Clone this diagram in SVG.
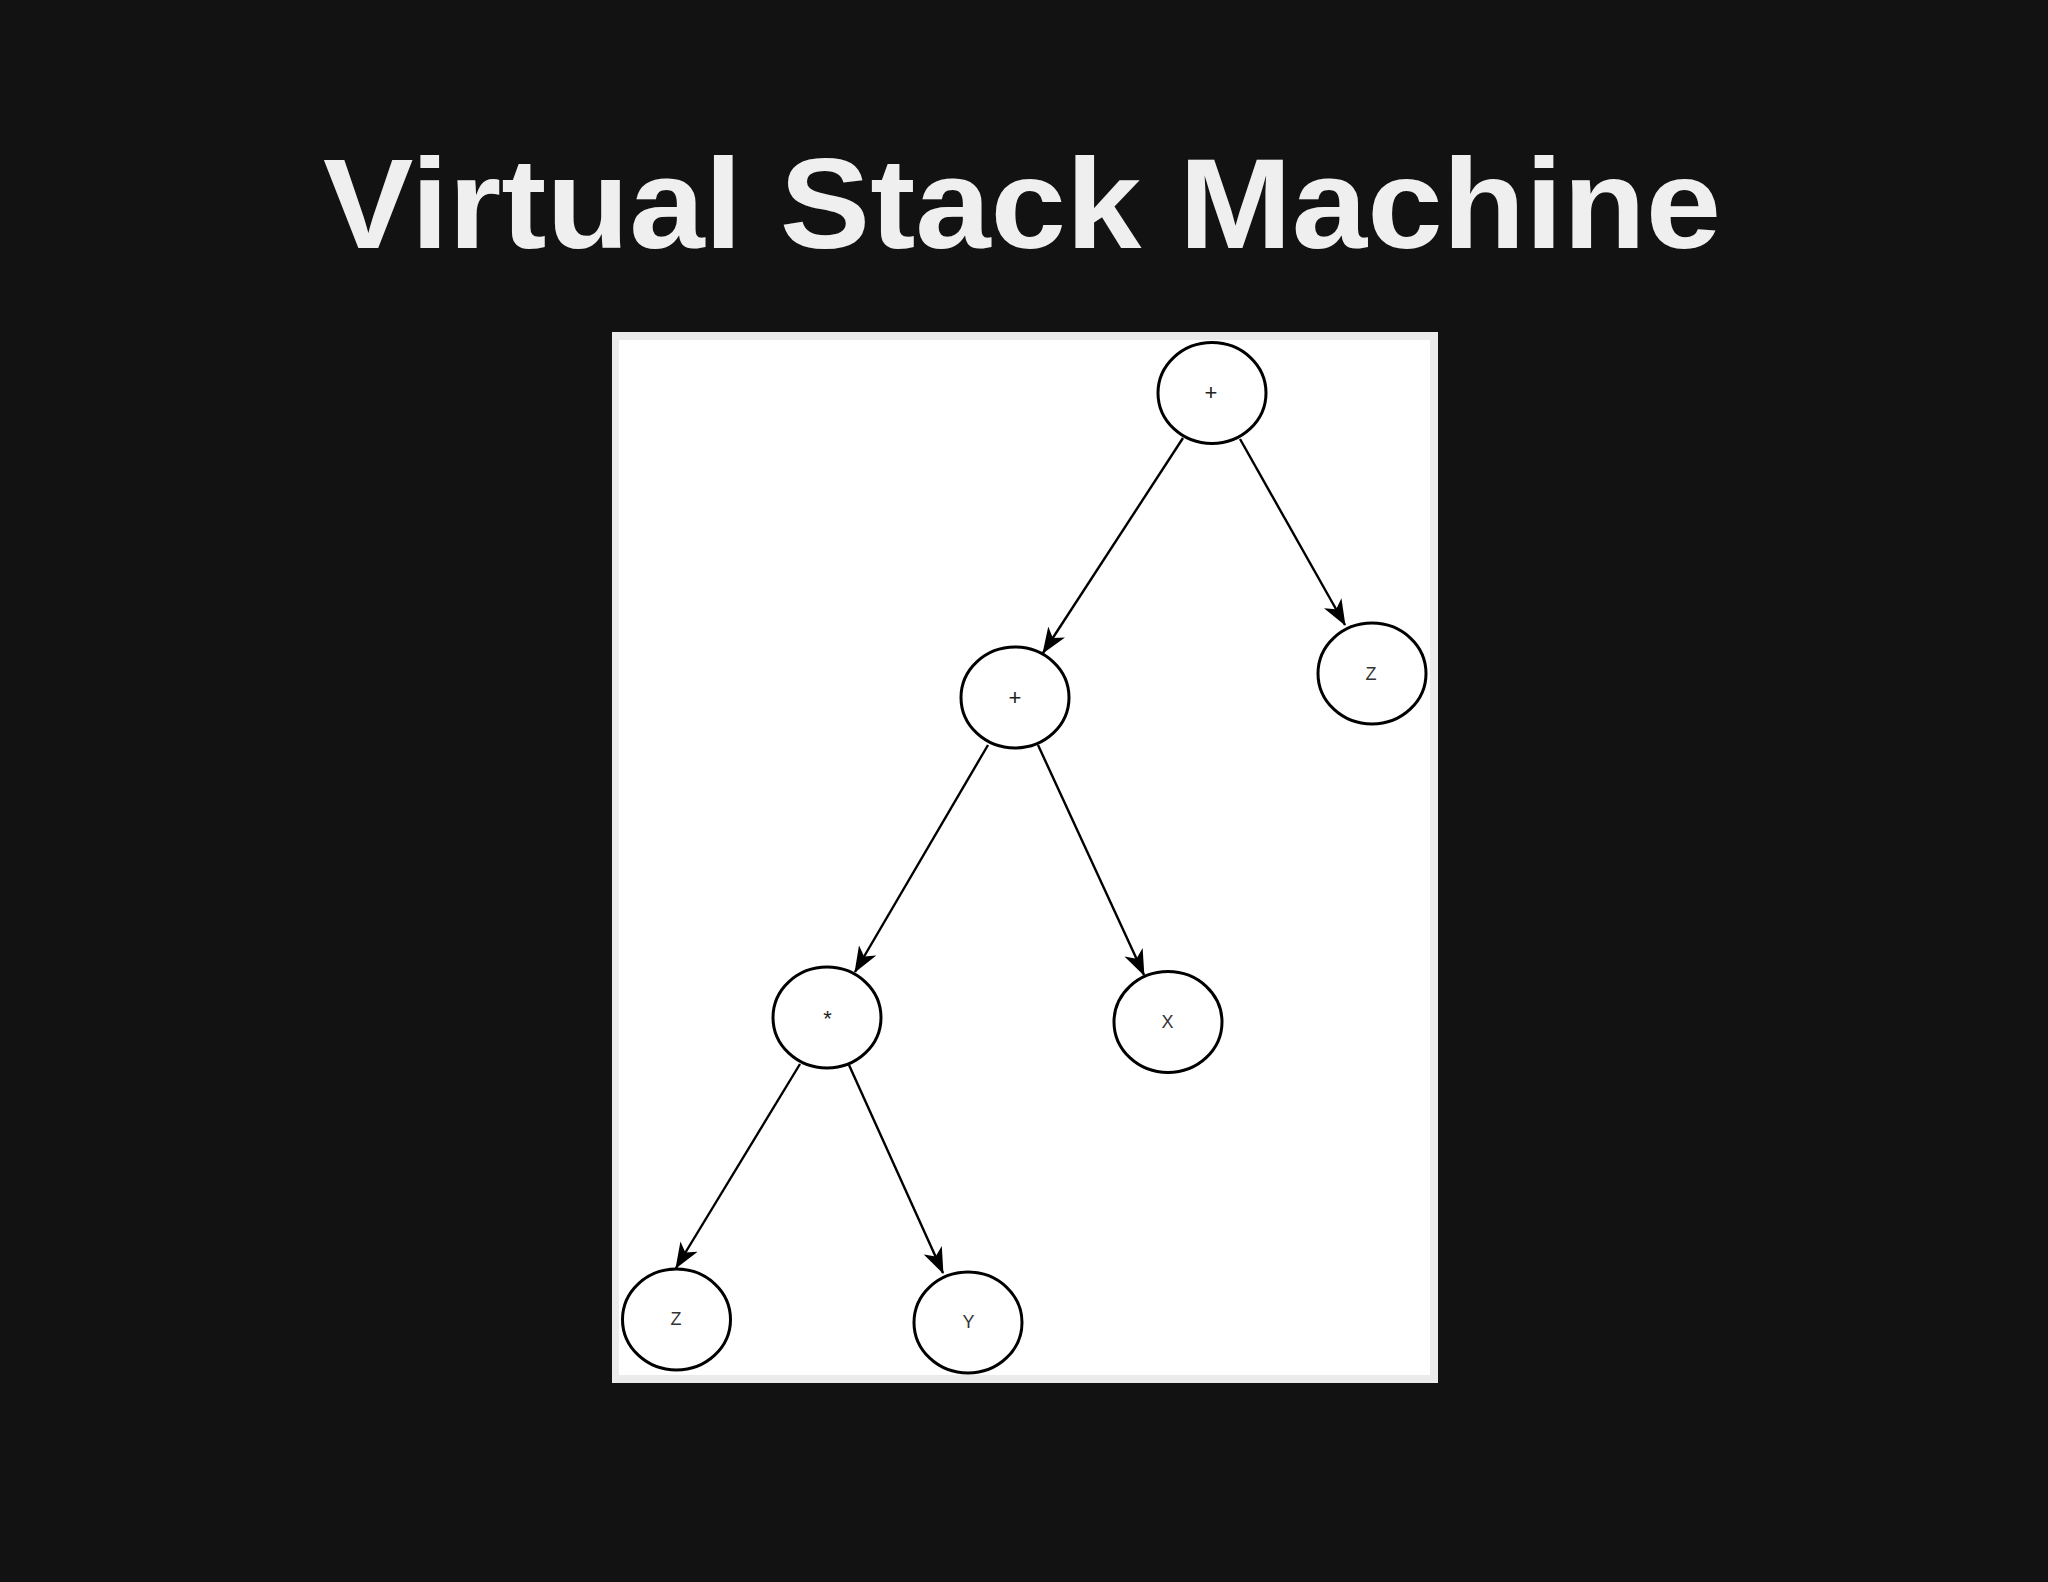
<svg xmlns="http://www.w3.org/2000/svg" width="2048" height="1582" viewBox="0 0 2048 1582">
<style>
.title{font-family:"Liberation Sans","Open Sans",sans-serif;font-weight:700;font-size:128px;fill:#efefef}
.node ellipse{fill:#ffffff;stroke:#000000;stroke-width:3}
.node text{font-family:"Liberation Sans","DejaVu Sans",sans-serif;font-size:18px;fill:#333333;text-anchor:middle}
.node text.op{font-size:22px;fill:#222222}
.edge{stroke:#000000;stroke-width:2.4;fill:none;marker-end:url(#arrow)}
</style>
<defs>
<marker id="arrow" markerUnits="userSpaceOnUse" markerWidth="26" markerHeight="20" viewBox="0 0 26 20" refX="25" refY="10" orient="auto">
<path d="M0,0 L26,10 L0,20 L7,10 Z" fill="#000000"/>
</marker>
</defs>
<rect x="0" y="0" width="2048" height="1582" fill="#121212"/>
<text class="title" x="1022" y="248" text-anchor="middle" textLength="1398" lengthAdjust="spacingAndGlyphs">Virtual Stack Machine</text>
<rect x="612" y="332" width="826" height="1051" fill="#ebebeb"/>
<rect x="619" y="340" width="811" height="1035" fill="#ffffff"/>
<g id="connectors">
<line class="edge" x1="1183" y1="438" x2="1043" y2="653"/>
<line class="edge" x1="1240" y1="439" x2="1345" y2="625"/>
<line class="edge" x1="988" y1="745" x2="855" y2="972"/>
<line class="edge" x1="1038" y1="745" x2="1144" y2="975"/>
<line class="edge" x1="800" y1="1064" x2="676" y2="1268"/>
<line class="edge" x1="849" y1="1065" x2="943" y2="1273"/>
</g>
<g id="node-plus-root" class="node">
<ellipse cx="1212" cy="393" rx="54" ry="50.5"/>
<text class="op" x="1211" y="400">+</text>
</g>
<g id="node-z-right" class="node">
<ellipse cx="1372" cy="673.5" rx="54" ry="50.5"/>
<text x="1371" y="679.5">Z</text>
</g>
<g id="node-plus-mid" class="node">
<ellipse cx="1015" cy="697.5" rx="54" ry="50.5"/>
<text class="op" x="1015" y="704.5">+</text>
</g>
<g id="node-mul" class="node">
<ellipse cx="827" cy="1017.5" rx="54" ry="50.5"/>
<text class="op" x="827.5" y="1026">*</text>
</g>
<g id="node-x" class="node">
<ellipse cx="1168" cy="1022" rx="54" ry="50.5"/>
<text x="1167.5" y="1028">X</text>
</g>
<g id="node-z-bottom" class="node">
<ellipse cx="676.5" cy="1319.5" rx="54" ry="50.5"/>
<text x="676" y="1325">Z</text>
</g>
<g id="node-y" class="node">
<ellipse cx="968" cy="1322.5" rx="54" ry="50.5"/>
<text x="968.5" y="1327.5">Y</text>
</g>
</svg>
